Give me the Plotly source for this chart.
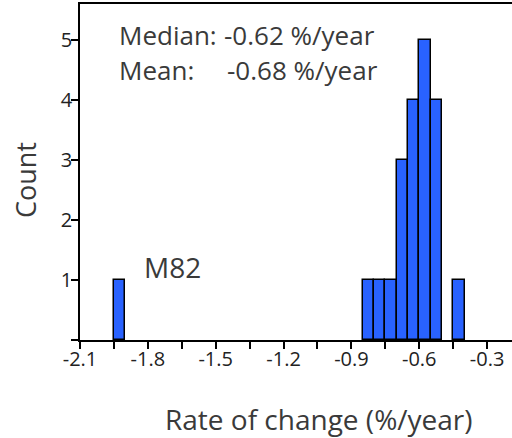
import plotly.graph_objects as go

# Histogram bins (left edge, %/year) and counts
bin_left = [-1.95, -0.85, -0.80, -0.75, -0.70, -0.65, -0.60, -0.55, -0.45]
counts = [1, 1, 1, 1, 3, 4, 5, 4, 1]
bin_width = 0.05

x_tick_vals = [-2.1, -1.8, -1.5, -1.2, -0.9, -0.6, -0.3]
x_tick_text = ["-2.1", "-1.8", "-1.5", "-1.2", "-0.9", "-0.6", "-0.3"]
y_tick_vals = [0, 1, 2, 3, 4, 5]
y_tick_text = ["", "1", "2", "3", "4", "5"]

median_val = "-0.62 %/year"
mean_val = "-0.68 %/year"

W, H = 512, 438
L, R, T, B = 80, 0, 4, 98
pw, ph = W - L - R, H - T - B

def px(xp):
    return (xp - L) / pw

def py(yp):
    return (H - B - yp) / ph

FONT = "Open Sans"
TXT = "#3a3a3a"

fig = go.Figure()
fig.add_trace(go.Bar(
    x=bin_left, y=counts, width=bin_width, offset=0,
    marker=dict(color="#2962ff", line=dict(color="black", width=1.5)),
    showlegend=False,
))

fig.update_layout(
    width=W, height=H,
    margin=dict(l=L, r=R, t=T, b=B),
    paper_bgcolor="white", plot_bgcolor="white",
    font=dict(family=FONT, color="#222"),
    bargap=0,
)
fig.update_xaxes(
    range=[-2.1, -0.19], showgrid=False, zeroline=False,
    showline=True, linecolor="black", linewidth=1.5, mirror=True,
    tickmode="array", tickvals=x_tick_vals, ticktext=x_tick_text,
    ticks="outside", ticklen=7, tickwidth=1.5, tickcolor="black",
    ticklabelstandoff=-7,
    tickfont=dict(size=20, family=FONT, color="#222"),
    minor=dict(tick0=-1.95, dtick=0.3, ticks="outside", ticklen=7, tickwidth=1.5, tickcolor="black"),
)
fig.update_yaxes(
    range=[0, 5.6], showgrid=False, zeroline=False,
    showline=True, linecolor="black", linewidth=1.5,
    tickmode="array", tickvals=y_tick_vals, ticktext=y_tick_text,
    ticks="outside", ticklen=7, tickwidth=1.5, tickcolor="black",
    ticklabelstandoff=-5,
    tickfont=dict(size=20, family=FONT, color="#222"),
)

ann = [
    dict(text="Median:", x=px(117), y=py(35), xanchor="left", size=26),
    dict(text=median_val, x=px(222), y=py(35), xanchor="left", size=26),
    dict(text="Mean:", x=px(117), y=py(70), xanchor="left", size=26),
    dict(text=mean_val, x=px(225), y=py(70), xanchor="left", size=26),
    dict(text="M82", x=px(142), y=py(267), xanchor="left", size=28),
    dict(text="Rate of change (%/year)", x=px(319), y=py(419), xanchor="center", size=28),
]
for a in ann:
    fig.add_annotation(text=a["text"], x=a["x"], y=a["y"], xref="paper", yref="paper",
                       xanchor=a["xanchor"], yanchor="middle", showarrow=False,
                       font=dict(size=a["size"], family=FONT, color=TXT))
fig.add_annotation(text="Count", x=px(25), y=py(180), xref="paper", yref="paper",
                   xanchor="center", yanchor="middle", textangle=-90, showarrow=False,
                   font=dict(size=27, family=FONT, color=TXT))

fig.write_html("out.html")
